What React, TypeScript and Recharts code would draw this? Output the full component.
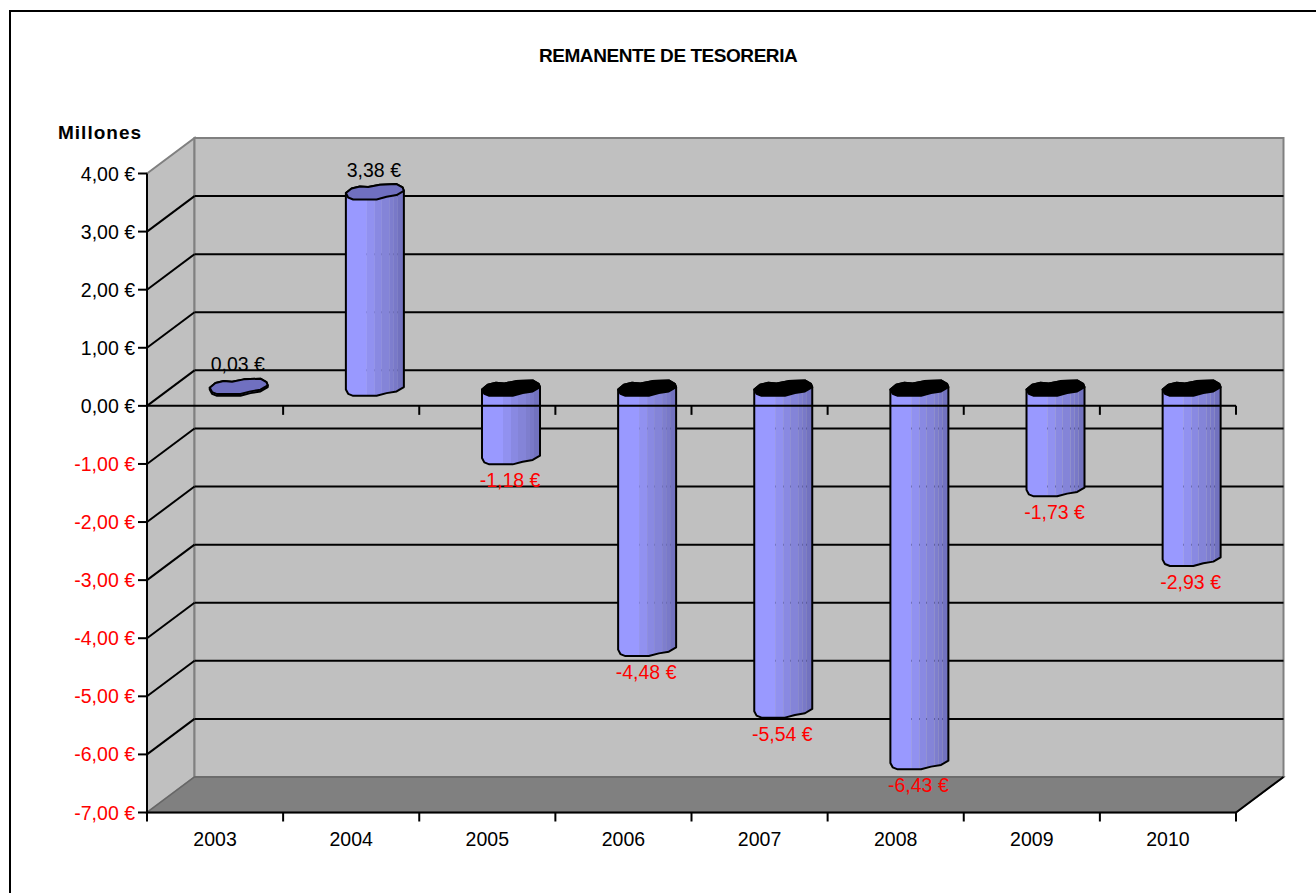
import React from 'react';
import {
  ComposedChart,
  Bar,
  XAxis,
  YAxis,
  ReferenceLine,
  LabelList,
  Customized
} from 'recharts';

const CATEGORIES = ['2003', '2004', '2005', '2006', '2007', '2008', '2009', '2010'];
const VALUES = [0.03, 3.38, -1.18, -4.48, -5.54, -6.43, -1.73, -2.93];
const Y_TICKS = [4, 3, 2, 1, 0, -1, -2, -3, -4, -5, -6, -7];

const chartData = CATEGORIES.map((year, i) => ({ year, value: VALUES[i] }));

const FONT = '"Liberation Sans", Arial, sans-serif';
const FONT_SIZE = 19.5;
const WIDTH = 1316;
const HEIGHT = 893;
// front plane of the fake 3D box
const LEFT = 147;
const RIGHT = 1236;
const TOP = 173.5;
const BOTTOM = 812.5;
// how far the back wall is pushed away from the front plane
const DEPTH_X = 47.5;
const DEPTH_Y = -35.5;

// cylinder is drawn half way into the box
const BAR_DX = DEPTH_X / 2;
const BAR_DY = DEPTH_Y / 2;

const fmt = (v: number) => `${v.toFixed(2).replace('.', ',')} €`;
const colorOf = (v: number) => (v < 0 ? '#ff0000' : '#000000');
const yOf = (v: number) => TOP + ((4 - v) / 11) * (BOTTOM - TOP);

// low-poly ellipse outline
const UPPER_EDGE = [[-29, 1.3], [-23.3, -3.3], [-15, -5.3], [-6.7, -4.7], [5, -7], [21.7, -7.7], [27.7, -4.3], [29, -1]];
const LOWER_EDGE = [[29, -1], [21.7, 3.3], [11.7, 5], [1.7, 7.7], [-21.7, 7.7], [-26.7, 5.7], [-29, 1.3]];

const STRIPS = [
  { from: -29, to: -8, fill: '#9999ff' },
  { from: -8, to: 0, fill: '#9191f0' },
  { from: 0, to: 7, fill: '#8989e2' },
  { from: 7, to: 15, fill: '#8484d8' },
  { from: 15, to: 19, fill: '#7e7ece' },
  { from: 19, to: 23, fill: '#7979c8' },
  { from: 23, to: 29, fill: '#7272bf' }
];

const pts = (list: number[][], cx: number, cy: number) =>
  list.map(([a, b]) => `${cx + a},${cy + b}`).join(' L');

function Cylinder(props: any) {
  const { x, y, width, height, index } = props;
  const value = VALUES[index];
  const valueY = value < 0 ? Math.max(y, y + height) : Math.min(y, y + height);
  const baseY = value < 0 ? Math.min(y, y + height) : Math.max(y, y + height);
  const cx = x + width / 2 + BAR_DX;
  const topY = Math.min(valueY, baseY) + BAR_DY;
  const botY = Math.max(valueY, baseY) + BAR_DY;

  const upper = `M${pts(UPPER_EDGE, cx, topY)}`;
  const body = `${upper} L${pts([[29, -1]], cx, botY)} L${pts(LOWER_EDGE, cx, botY)} Z`;
  const cap = `${upper} L${pts(LOWER_EDGE, cx, topY)} Z`;
  const clipId = `cyl-${index}`;

  return (
    <g>
      <clipPath id={clipId}>
        <path d={body} />
      </clipPath>
      <g clipPath={`url(#${clipId})`}>
        {STRIPS.map(s => (
          <rect key={s.from} x={cx + s.from} y={topY - 10} width={s.to - s.from} height={botY - topY + 20} fill={s.fill} />
        ))}
      </g>
      <path d={body} fill="none" stroke="#000" strokeWidth={2} strokeLinejoin="round" />
      <path d={cap} fill={value < 0 ? '#000000' : '#7070c0'} stroke="#000" strokeWidth={2} strokeLinejoin="round" />
    </g>
  );
}

function ValueLabel(props: any) {
  const { x, width, index } = props;
  const value = VALUES[index];
  const cx = x + width / 2 + BAR_DX - 1;
  const y = yOf(value) + (value < 0 ? 6 : -40);
  return (
    <text x={cx} y={y} textAnchor="middle" dominantBaseline="central" fontFamily={FONT} fontSize={FONT_SIZE} fill={colorOf(value)}>
      {fmt(value)}
    </text>
  );
}

function YTick({ x, y, payload }: any) {
  return (
    <text x={x} y={y} textAnchor="end" dominantBaseline="central" fontFamily={FONT} fontSize={FONT_SIZE} fill={colorOf(payload.value)}>
      {fmt(payload.value)}
    </text>
  );
}

// walls, floor and grid of the 3D box
function Walls() {
  const backL = LEFT + DEPTH_X;
  const backR = RIGHT + DEPTH_X;
  const backT = TOP + DEPTH_Y;
  const backB = BOTTOM + DEPTH_Y;
  return (
    <g>
      <polygon points={`${LEFT},${TOP} ${backL},${backT} ${backL},${backB} ${LEFT},${BOTTOM}`} fill="#c0c0c0" stroke="#808080" strokeWidth={2} />
      <rect x={backL} y={backT} width={backR - backL} height={backB - backT} fill="#c0c0c0" stroke="#808080" strokeWidth={2} />
      <polygon points={`${LEFT},${BOTTOM} ${RIGHT},${BOTTOM} ${backR},${backB} ${backL},${backB}`} fill="#808080" stroke="#666666" strokeWidth={1.5} />
      {Y_TICKS.filter(t => t !== 4 && t !== -7).map(t => (
        <g key={t}>
          <line x1={LEFT} y1={yOf(t)} x2={backL} y2={yOf(t) + DEPTH_Y} stroke="#000" strokeWidth={2} />
          <line x1={backL} y1={yOf(t) + DEPTH_Y} x2={backR} y2={yOf(t) + DEPTH_Y} stroke="#000" strokeWidth={2} />
        </g>
      ))}
      <line x1={RIGHT} y1={BOTTOM} x2={backR} y2={backB} stroke="#000" strokeWidth={2} />
    </g>
  );
}

// separator ticks between the categories, on the zero line and on the bottom
function CategoryTicks() {
  const step = (RIGHT - LEFT) / CATEGORIES.length;
  return (
    <g>
      {CATEGORIES.map((c, i) => {
        const tx = LEFT + step * (i + 1);
        return (
          <g key={c}>
            <line x1={tx} y1={yOf(0)} x2={tx} y2={yOf(0) + 9} stroke="#000" strokeWidth={2} />
            <line x1={tx} y1={BOTTOM} x2={tx} y2={BOTTOM + 9} stroke="#000" strokeWidth={2} />
          </g>
        );
      })}
      <line x1={LEFT} y1={BOTTOM} x2={LEFT} y2={BOTTOM + 9} stroke="#000" strokeWidth={2} />
    </g>
  );
}

export default function App() {
  return (
    <div style={{ position: 'absolute', left: 0, top: 0, width: WIDTH, height: HEIGHT, overflow: 'hidden', background: '#fff' }}>
      <div style={{ position: 'absolute', left: 9, top: 10, width: WIDTH, height: HEIGHT, borderLeft: '2px solid #000', borderTop: '2px solid #000' }} />
      <div style={{ position: 'absolute', left: 539, top: 45, fontFamily: FONT, fontSize: 19, lineHeight: '22px', fontWeight: 700, whiteSpace: 'nowrap', letterSpacing: -0.45 }}>
        REMANENTE DE TESORERIA
      </div>
      <div style={{ position: 'absolute', left: 58, top: 122, fontFamily: FONT, fontSize: 19, lineHeight: '22px', fontWeight: 700, whiteSpace: 'nowrap', letterSpacing: 1 }}>
        Millones
      </div>
      <ComposedChart
        width={WIDTH}
        height={HEIGHT}
        data={chartData}
        margin={{ top: TOP, right: WIDTH - RIGHT, bottom: 0, left: 0 }}
        style={{ position: 'absolute', left: 0, top: 0 }}
      >
        <Customized component={Walls} />
        <XAxis
          dataKey="year"
          axisLine={{ stroke: '#000', strokeWidth: 2 }}
          tickLine={false}
          tickMargin={14}
          tick={{ fontFamily: FONT, fontSize: FONT_SIZE, fill: '#000' }}
          height={HEIGHT - BOTTOM}
          interval={0}
        />
        <YAxis
          type="number"
          domain={[-7, 4]}
          ticks={Y_TICKS}
          interval={0}
          width={LEFT}
          axisLine={{ stroke: '#000', strokeWidth: 2 }}
          tickLine={{ stroke: '#000', strokeWidth: 2 }}
          tickSize={9}
          tickMargin={3}
          tick={<YTick />}
        />
        <ReferenceLine y={0} stroke="#000" strokeWidth={2} />
        <Customized component={CategoryTicks} />
        <Bar dataKey="value" barSize={58} shape={<Cylinder />} isAnimationActive={false}>
          <LabelList dataKey="value" content={<ValueLabel />} />
        </Bar>
      </ComposedChart>
    </div>
  );
}
